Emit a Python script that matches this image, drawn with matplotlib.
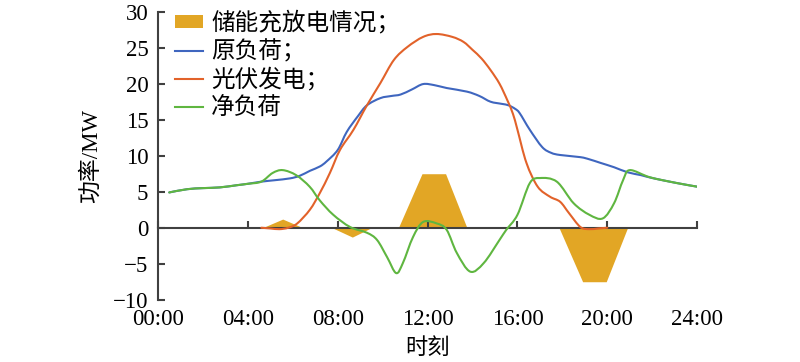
import matplotlib
matplotlib.use("Agg")
import matplotlib.pyplot as plt
from matplotlib.patches import Patch, PathPatch
from matplotlib.path import Path
from matplotlib.lines import Line2D

# ---------------- data ----------------
load_h = [0.5, 1.3, 2.0, 2.75, 3.5, 4.0, 4.6, 5.2, 5.87, 6.3, 6.76, 7.2, 7.5, 8.0,
          8.4, 8.9, 9.3, 9.9, 10.4, 10.8, 11.3, 11.8, 12.3, 12.85, 13.75, 14.3,
          14.8, 15.3, 15.6, 15.9, 16.1, 16.55, 17.1, 17.5, 17.9, 18.8, 19.2, 19.7,
          20.3, 20.9, 21.5, 22.0, 23.1, 24.0]
load_v = [4.9, 5.35, 5.5, 5.6, 5.9, 6.1, 6.4, 6.6, 6.85, 7.2, 7.9, 8.5, 9.2, 10.8,
          13.3, 15.5, 17.0, 18.0, 18.3, 18.5, 19.2, 19.95, 19.8, 19.4, 18.9, 18.3,
          17.5, 17.2, 17.0, 16.5, 15.9, 13.6, 11.2, 10.4, 10.1, 9.8, 9.5, 9.0,
          8.4, 7.7, 7.3, 6.9, 6.2, 5.7]

pv_h = [4.6, 5.0, 5.4, 5.8, 6.2, 6.76, 7.2, 7.65, 8.1, 8.7, 9.3, 9.9, 10.5, 11.1,
        11.8, 12.4, 13.1, 13.6, 14.0, 14.4, 14.8, 15.2, 15.55, 15.8, 16.0, 16.4,
        16.9, 17.45, 17.9, 18.3, 18.8, 19.2, 19.6, 20.0]
pv_v = [0.0, -0.1, -0.2, 0.0, 0.6, 2.5, 4.8, 7.6, 10.8, 13.6, 17.0, 20.1, 23.3, 25.1,
        26.5, 26.9, 26.5, 25.8, 24.7, 23.5, 21.9, 20.0, 17.7, 15.8, 13.6, 9.0,
        5.7, 4.3, 3.6, 2.0, 0.1, -0.2, -0.1, 0.0]

net_h = [0.5, 1.3, 2.0, 2.75, 3.5, 4.0, 4.6, 5.1, 5.55, 6.15, 6.75, 7.2, 7.8, 8.55,
         9.3, 9.75, 10.2, 10.6, 10.9, 11.35, 11.8, 12.4, 12.85, 13.3, 13.9, 14.5,
         15.2, 15.5, 16.0, 16.55, 17.0, 17.75, 18.5, 19.2, 19.8, 20.3, 20.7, 21.0,
         21.9, 23.1, 24.0]
net_v = [4.9, 5.35, 5.5, 5.6, 5.9, 6.1, 6.4, 7.6, 8.0, 7.3, 5.7, 3.8, 1.8, 0.1,
         -0.7, -1.7, -4.1, -6.3, -4.9, -1.3, 0.8, 0.6, -0.3, -3.5, -6.1, -4.9,
         -1.7, -0.3, 1.8, 6.2, 6.9, 6.4, 3.4, 1.8, 1.3, 3.4, 6.6, 8.0,
         7.0, 6.2, 5.7]

ess_h = [0.5, 4.65, 5.55, 6.45, 7.75, 8.65, 9.5, 10.7, 11.75, 12.8, 13.75,
         17.85, 18.9, 19.95, 20.9, 24.0]
ess_v = [0, 0, 1.2, 0, 0, -1.3, 0, 0, 7.5, 7.5, 0, 0, -7.5, -7.5, 0, 0]

xticks = [0, 4, 8, 12, 16, 20, 24]
xticklabels = ["00:00", "04:00", "08:00", "12:00", "16:00", "20:00", "24:00"]
yticks = [-10, -5, 0, 5, 10, 15, 20, 25, 30]

labels = ["储能充放电情况；", "原负荷；", "光伏发电；", "净负荷"]

# ---------------- style ----------------
C_ESS = "#E2A625"
C_LOAD = "#3F66BF"
C_PV = "#E2622A"
C_NET = "#5FB640"
C_AX = "#404040"
SERIF = ["Liberation Serif", "Noto Sans CJK SC"]
CJK = ["Noto Sans CJK SC", "DejaVu Sans"]


def smooth_line(ax, xs, ys, color, lw, z):
    """Draw a smoothed (Excel-like) line through the given points as a Bezier path."""
    n = len(xs)
    verts = [(xs[0], ys[0])]
    codes = [Path.MOVETO]
    k = 1.0 / 6.0
    for i in range(n - 1):
        x0, y0 = (xs[i - 1], ys[i - 1]) if i > 0 else (xs[i], ys[i])
        x1, y1 = xs[i], ys[i]
        x2, y2 = xs[i + 1], ys[i + 1]
        x3, y3 = (xs[i + 2], ys[i + 2]) if i + 2 < n else (x2, y2)
        c1 = (x1 + (x2 - x0) * k, y1 + (y2 - y0) * k)
        c2 = (x2 - (x3 - x1) * k, y2 - (y3 - y1) * k)
        verts += [c1, c2, (x2, y2)]
        codes += [Path.CURVE4] * 3
    ax.add_patch(PathPatch(Path(verts, codes), facecolor="none", edgecolor=color,
                           lw=lw, zorder=z, capstyle="round", joinstyle="round"))


fig = plt.figure(figsize=(8.0, 3.62), dpi=100)
ax = fig.add_axes([0.1975, 0.172, 0.674, 0.7957])

ax.fill_between(ess_h, 0, ess_v, color=C_ESS, lw=0, zorder=1)
smooth_line(ax, load_h, load_v, C_LOAD, 1.5, 3)
smooth_line(ax, pv_h, pv_v, C_PV, 1.5, 3)
smooth_line(ax, net_h, net_v, C_NET, 1.5, 4)

ax.set_xlim(0, 24)
ax.set_ylim(-10, 30)

for s in ["top", "right", "bottom"]:
    ax.spines[s].set_visible(False)
ax.spines["left"].set_color(C_AX)
ax.spines["left"].set_linewidth(1.5)

ax.set_yticks(yticks)
ax.set_yticklabels([str(v).replace("-", "\u2212") for v in yticks],
                   fontfamily=SERIF, fontsize=16.5)
ax.tick_params(axis="y", direction="in", length=5, width=1.5, color=C_AX, pad=7)

ax.set_xticks(xticks)
ax.set_xticklabels(xticklabels, fontfamily=SERIF, fontsize=16.5)
ax.tick_params(axis="x", length=0, pad=7)

# zero line with upward ticks
sec = ax.secondary_xaxis(0.25)
sec.set_xticks(xticks)
sec.tick_params(axis="x", direction="in", length=5, width=1.5, color=C_AX,
                labelbottom=False)
sec.spines["bottom"].set_color(C_AX)
sec.spines["bottom"].set_linewidth(1.5)
sec.set_zorder(2)

ax.set_ylabel("功率/MW", fontfamily=SERIF, fontsize=16.5, labelpad=8)
ax.set_xlabel("时刻", fontfamily=CJK, fontsize=16, labelpad=4)

handles = [Patch(facecolor=C_ESS, edgecolor="none"),
           Line2D([], [], color=C_LOAD, lw=1.5),
           Line2D([], [], color=C_PV, lw=1.5),
           Line2D([], [], color=C_NET, lw=1.5)]
leg = ax.legend(handles, labels, loc="upper left", bbox_to_anchor=(0.0, 1.06),
                frameon=False, prop={"family": CJK, "size": 17},
                handlelength=1.2, handleheight=0.45, handletextpad=0.35,
                labelspacing=0.2, borderaxespad=0.3)

fig.savefig("out.png", dpi=100)
